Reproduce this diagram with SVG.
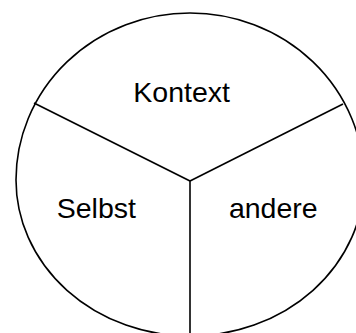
<svg xmlns="http://www.w3.org/2000/svg" width="356" height="333" viewBox="0 0 356 333">
  <style>
    .outline { fill: none; stroke: #000; stroke-width: 1.6; }
    .label { font-family: "Liberation Sans", Arial, sans-serif; font-size: 28.5px; fill: #000; text-anchor: middle; }
  </style>
  <rect width="356" height="333" fill="#fff"/>
  <!-- outer boundary: upper and lower halves -->
  <g id="boundary">
    <path class="outline" d="M 16 180 A 174 167 0 0 1 364 180 A 174 156 0 0 1 16 180 Z"/>
  </g>
  <!-- dividing lines meeting at the centre -->
  <g id="connectors">
    <line class="outline" x1="190" y1="181" x2="34" y2="103"/>
    <line class="outline" x1="190" y1="181" x2="343" y2="104"/>
    <line class="outline" x1="190" y1="181" x2="190" y2="340"/>
  </g>
  <g id="kontext">
    <text class="label" x="181.7" y="101.5">Kontext</text>
  </g>
  <g id="selbst">
    <text class="label" x="96.3" y="218.3">Selbst</text>
  </g>
  <g id="andere">
    <text class="label" x="273.3" y="217.7">andere</text>
  </g>
</svg>
